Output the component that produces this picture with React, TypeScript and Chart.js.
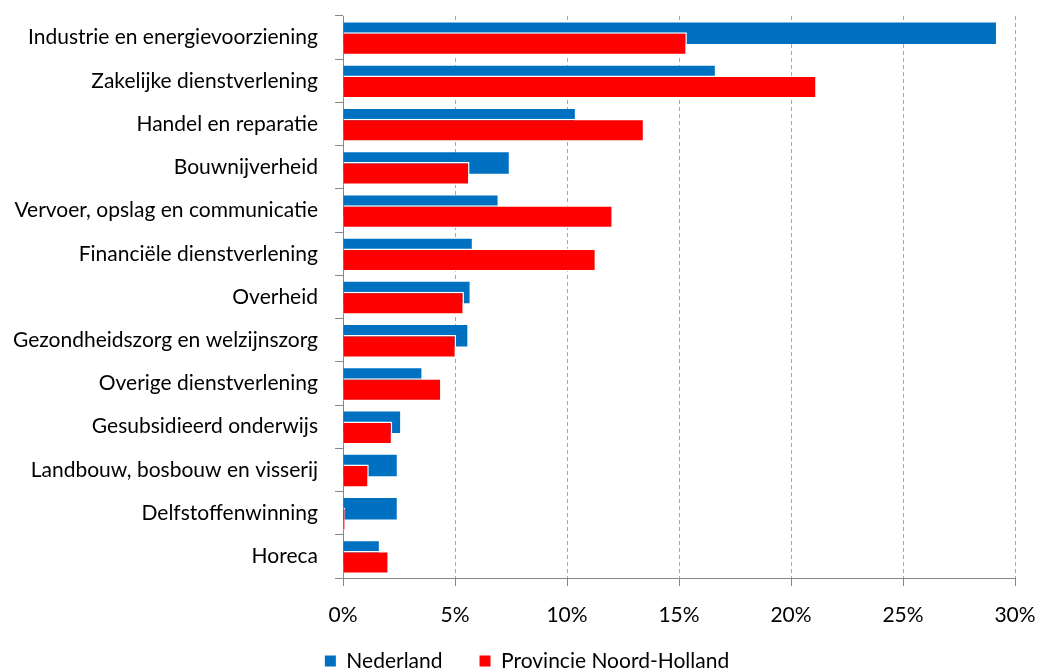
import React, { useEffect, useRef } from 'react';
import { Chart, registerables } from 'chart.js';

Chart.register(...registerables);

const categories = [
  'Industrie en energievoorziening',
  'Zakelijke dienstverlening',
  'Handel en reparatie',
  'Bouwnijverheid',
  'Vervoer, opslag en communicatie',
  'Financiële dienstverlening',
  'Overheid',
  'Gezondheidszorg en welzijnszorg',
  'Overige dienstverlening',
  'Gesubsidieerd onderwijs',
  'Landbouw, bosbouw en visserij',
  'Delfstoffenwinning',
  'Horeca',
];

const nederland = [29.15, 16.6, 10.35, 7.4, 6.9, 5.75, 5.65, 5.55, 3.5, 2.55, 2.4, 2.4, 1.6];
const noordHolland = [15.35, 21.15, 13.45, 5.65, 12.05, 11.3, 5.4, 5.05, 4.4, 2.2, 1.15, 0.1, 2.05];

const xTickValues = [0, 5, 10, 15, 20, 25, 30];
const seriesNames = ['Nederland', 'Provincie Noord-Holland'];

const FONT_FAMILY = 'Lato';
const FONT_SIZE = 21;

export default function App() {
  const ref = useRef<HTMLCanvasElement>(null);

  useEffect(() => {
    if (!ref.current) return;
    const drawOrder = {
      id: 'drawOrder',
      beforeDatasetsDraw(chart: any) {
        [0, 1].forEach((i) => {
          const meta = chart.getDatasetMeta(i);
          if (meta && !meta.hidden) meta.controller.draw();
        });
        return false;
      },
    };
    const legendPlacement = {
      id: 'legendPlacement',
      afterLayout(chart: any) {
        const lg = chart.legend;
        if (!lg) return;
        lg.top = 613.5;
        lg.bottom = 671;
        lg.height = 57.5;
        lg.left += 19.5;
        lg.right += 19.5;
      },
    };

    const font = { family: FONT_FAMILY, size: FONT_SIZE };

    const chart = new Chart(ref.current, {
      type: 'bar',
      data: {
        labels: categories,
        datasets: [
          {
            label: seriesNames[0],
            data: nederland,
            backgroundColor: '#0070C0',
            borderWidth: 0,
            categoryPercentage: 0.407,
            barPercentage: 2.44,
          },
          {
            label: seriesNames[1],
            data: noordHolland,
            backgroundColor: '#FF0000',
            borderColor: '#FFFFFF',
            borderWidth: 1.5,
            categoryPercentage: 0.574,
            barPercentage: 1.855,
          },
        ],
      },
      options: {
        indexAxis: 'y',
        responsive: false,
        animation: false,
        layout: { padding: { top: 16, right: 22, bottom: 0, left: 0 } },
        plugins: {
          tooltip: { enabled: false },
          legend: {
            position: 'bottom',
            maxHeight: 45,
            labels: {
              boxWidth: 11,
              boxHeight: 11,
              padding: 37,
              color: '#000',
              font,
              generateLabels: (c: any) =>
                (Chart.defaults.plugins.legend.labels.generateLabels as any)(c).map((l: any) => ({
                  ...l,
                  lineWidth: 0,
                  strokeStyle: 'rgba(0,0,0,0)',
                })),
            },
          },
        },
        scales: {
          x: {
            min: 0,
            max: 30,
            afterBuildTicks: (s: any) => {
              s.ticks = xTickValues.map((v) => ({ value: v }));
            },
            afterFit: (s: any) => {
              s.height = 48;
              s.paddingLeft = 0;
              s.paddingRight = 0;
            },
            ticks: {
              callback: (v: any) => v + '%',
              color: '#000',
              font,
              padding: 17,
              maxRotation: 0,
            },
            grid: {
              color: '#A6A6A6',
              tickColor: '#868686',
              tickLength: 8,
              lineWidth: 1,
            },
            border: { display: true, color: '#868686', width: 1, dash: [4, 3] },
          },
          y: {
            afterFit: (s: any) => {
              s.width = 343;
              s.paddingTop = 0;
              s.paddingBottom = 0;
            },
            ticks: { color: '#000', font, padding: 17 },
            grid: {
              drawOnChartArea: false,
              color: '#868686',
              tickLength: 8,
              offset: true,
            },
            border: { display: true, color: '#868686', width: 1 },
          },
        },
      },
      plugins: [drawOrder, legendPlacement],
    } as any);

    return () => chart.destroy();
  }, []);

  return (
    <div style={{ position: 'fixed', left: 0, top: 0, width: 1037, height: 671, background: '#fff' }}>
      <canvas ref={ref} width={1037} height={671} style={{ display: 'block' }} />
    </div>
  );
}
